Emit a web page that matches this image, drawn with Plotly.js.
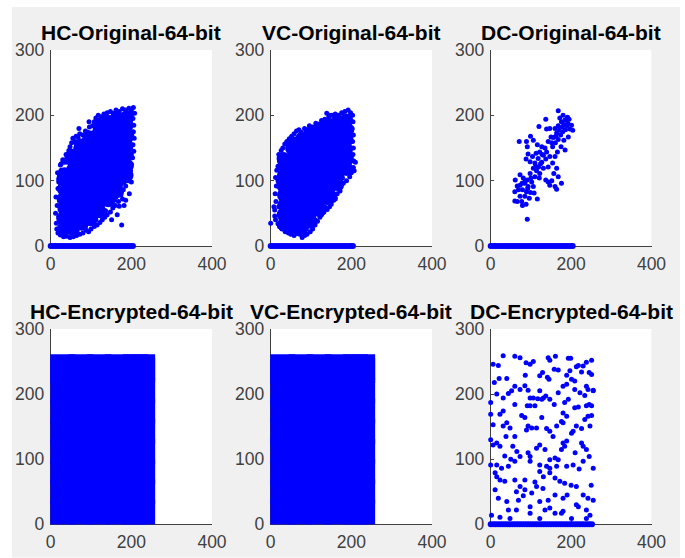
<!DOCTYPE html>
<html><head><meta charset="utf-8">
<script src="https://cdn.plot.ly/plotly-3.0.1.min.js"></script>
<style>html,body{margin:0;padding:0;background:#fff;}</style>
</head><body><div id="chart" style="width:685px;height:558px;"></div>
<script>
// ---------- data ----------
const panelTitles = ["HC-Original-64-bit","VC-Original-64-bit","DC-Original-64-bit",
                     "HC-Encrypted-64-bit","VC-Encrypted-64-bit","DC-Encrypted-64-bit"];
const xTickVals = [0,200,400];
const yTickVals = [0,100,200,300];

// dense core of the HC original cloud (representative points)
const hcOrigCore = [
[33,27],[31,42],[34,57],[32,72],[33,87],[31,102],[34,110],
[55,26],[56,42],[54,57],[55,72],[57,87],[54,102],[56,117],[55,132],[53,138],
[77,34],[78,49],[76,64],[77,79],[79,94],[76,109],[78,124],[77,139],[75,154],
[99,41],[100,56],[98,71],[101,86],[99,101],[97,116],[100,131],[99,146],[101,161],[98,166],
[121,53],[122,68],[120,83],[121,98],[123,113],[120,128],[122,143],[121,158],[119,173],[121,186],
[143,70],[144,85],[142,100],[143,115],[145,130],[142,145],[144,160],[143,175],[141,190],
[165,84],[166,99],[164,114],[165,129],[167,144],[164,159],[166,174],[165,189],[163,195],
[188,108],[189,123],[187,138],[188,153],[190,168],[187,183],[189,197]];
// sparse edge / outlier points of the HC original cloud
const hcOrigEdge = [
[14,35],[12,50],[16,62],[13,75],[18,88],[20,98],[22,108],[26,116],[24,124],[30,132],[35,128],[38,140],[45,146],[48,152],[52,158],[60,160],[63,168],[68,166],[72,172],[80,170],[86,176],[92,174],[96,182],[104,184],[108,190],[112,196],[118,200],[126,198],[132,202],[140,204],[148,206],[155,203],[162,208],[170,206],[178,210],[186,208],[194,211],[200,207],[205,212],[208,203],[204,195],
[206,185],[205,175],[207,165],[204,155],[206,145],[203,135],[200,125],[198,115],[196,108],[192,100],[186,92],[180,86],[174,78],[178,72],[168,68],[160,62],[154,58],[148,52],[140,48],[134,44],[128,40],[122,36],[115,32],[108,30],[100,26],[94,22],[88,24],[80,20],[72,18],[64,16],[56,14],[48,13],[40,15],[32,14],[24,17],[18,20],[15,26],
[151,40],[176,32],[170,61],[165,48],[182,62],[195,80],[186,70],[70,180],[55,165],[95,190],[200,98],[162,75],[40,135],[17,112],[26,126],
[20,45],[22,70],[24,92],[42,128],[62,150],[84,164],[110,182],[136,196],[172,200],[198,190],[200,140],[196,122],[182,98],[158,70],[136,54],[112,40],[86,30],[60,20],[38,20]];
const hcOrigZeroX = [0,6,12,18,24,30,36,42,48,54,60,66,72,78,84,90,96,102,108,114,120,126,132,138,144,150,156,162,168,174,180,186,192,198,204];

const vcOrigCore = [
[33,33],[32,48],[34,63],[33,78],[31,93],[33,108],[34,123],[32,133],
[55,30],[56,45],[54,60],[55,75],[57,90],[54,105],[56,120],[55,135],[53,150],[56,157],
[77,28],[78,43],[76,58],[77,73],[79,88],[76,103],[78,118],[77,133],[75,148],[77,163],
[99,37],[100,52],[98,67],[101,82],[99,97],[97,112],[100,127],[99,142],[101,157],[98,172],
[121,55],[122,70],[120,85],[121,100],[123,115],[120,130],[122,145],[121,160],[119,175],[121,180],
[143,73],[144,88],[142,103],[143,118],[145,133],[142,148],[144,163],[143,178],[141,186],
[165,95],[166,110],[164,125],[165,140],[167,155],[164,170],[166,185],[165,190],
[188,118],[189,133],[187,148],[188,163],[190,178],[187,192]];
const vcOrigEdge = [
[12,40],[10,55],[13,68],[11,80],[14,92],[12,105],[15,116],[18,122],[22,130],[20,140],[26,146],[30,150],[35,156],[40,160],[46,164],[52,168],[58,172],[64,176],[70,178],[76,174],[84,180],[90,178],[96,184],[104,182],[112,188],[118,186],[126,192],[134,194],[139,203],[144,198],[152,200],[160,202],[168,200],[176,204],[184,206],[192,208],[198,204],[203,200],
[204,190],[202,180],[205,170],[203,160],[205,150],[204,140],[206,130],[205,120],[200,112],[196,106],[188,100],[180,96],[174,90],[172,84],[165,80],[160,74],[156,70],[150,64],[146,60],[140,56],[132,52],[126,48],[122,44],[116,38],[110,32],[104,26],[98,22],[90,18],[84,16],[78,13],[72,18],[65,19],[58,16],[50,18],[44,20],[36,22],[28,26],[22,30],[18,34],
[0,35],[23,30],[150,78],[210,128],[207,115],[200,190],[146,200],[8,60],[10,46],[160,72],
[20,60],[18,100],[28,138],[48,158],[72,170],[100,178],[130,188],[160,196],[196,196],[200,160],[198,130],[178,104],[156,80],[134,60],[110,40],[88,26],[62,24],[34,30]];
const vcOrigZeroX = [0,6,12,18,24,30,36,42,48,54,60,66,72,78,84,90,96,102,108,114,120,126,132,138,144,150,156,162,168,174,180,186,192,198,204];

const dcOrigPts = [
[168,207],[191,197],[195,194],[185,193],[176,190],[182,186],[189,184],[204,177],[197,179],[168,184],[160,180],[170,177],[179,175],[164,173],[174,170],[156,166],[168,163],[182,162],[161,158],[150,167],[139,179],[137,194],[147,180],[175,152],[185,147],[166,144],[160,137],[154,152],[143,160],[201,185],[193,167],
[120,183],[99,168],[106,162],[116,155],[127,152],[135,150],[122,144],[131,139],[139,144],[113,142],[104,137],[118,134],[127,128],[137,133],[110,127],[119,121],[131,119],[114,115],[106,119],[98,111],[122,111],[143,121],[147,137],[91,152],[93,141],[88,133],[98,129],[110,106],[121,104],
[61,101],[73,109],[81,104],[91,101],[102,98],[85,96],[73,93],[93,91],[106,91],[79,86],[89,83],[99,82],[69,86],[60,83],[73,76],[85,76],[96,73],[77,68],[66,68],[60,69],[79,62],[88,64],[116,72],[108,81],[91,41],
[137,101],[143,98],[152,100],[147,93],[160,91],[164,87],[176,96],[168,106],[157,111],[164,119],[154,127],[71,160],[89,160],
[178,182],[186,178],[192,188],[172,196],[180,200],[162,168],[152,158],[128,140],[124,126],[112,122],[100,104],[86,100],[78,96],[92,88],[66,92]];
const dcOrigZeroX = [0,6,12,18,24,30,36,42,48,54,60,66,72,78,84,90,96,102,108,114,120,126,132,138,144,150,156,162,168,174,180,186,192,198,204];

// encrypted HC / VC: the pairs fill the whole 0..~258 square (representative points)
const hcEncPts = [
[30,19],[75,19],[118,19],[165,19],[208,19],[228,19],
[30,50],[72,52],[122,48],[163,51],[212,49],[228,50],
[30,81],[77,80],[119,83],[167,79],[209,82],[228,81],
[30,112],[74,113],[121,110],[162,114],[211,111],[228,112],
[30,143],[76,141],[118,144],[166,142],[207,145],[228,143],
[30,174],[73,176],[123,173],[164,175],[210,172],[228,174],
[30,205],[78,204],[120,207],[161,203],[212,206],[228,205],
[30,236],[74,234],[117,237],[167,235],[208,233],[228,236],
[30,242],[75,242],[120,242],[165,242],[210,242],[228,242]];
const vcEncPts = [
[30,19],[73,19],[121,19],[163,19],[210,19],[228,19],
[30,51],[76,49],[118,52],[166,48],[208,51],[228,50],
[30,80],[74,82],[122,79],[161,81],[213,80],[228,81],
[30,113],[78,111],[119,114],[165,110],[209,113],[228,112],
[30,142],[72,144],[121,141],[168,145],[206,142],[228,143],
[30,175],[77,173],[117,176],[163,172],[211,175],[228,174],
[30,204],[75,206],[123,203],[166,207],[208,204],[228,205],
[30,235],[73,237],[120,234],[162,236],[212,235],[228,236],
[30,242],[75,242],[120,242],[165,242],[210,242],[228,242]];

const dcEncPts = [
[6,246],[19,244],[31,259],[60,258],[73,256],[88,248],[98,246],[106,250],[143,256],[161,258],[193,255],[199,255],[218,244],[213,242],[238,249],[251,252],[147,252],
[9,218],[21,224],[40,224],[86,229],[122,228],[141,226],[145,223],[158,238],[168,237],[189,229],[197,236],[201,223],[209,220],[226,234],[230,243],[245,233],[251,230],[238,212],[255,205],[129,233],
[0,187],[0,169],[15,200],[31,194],[44,201],[52,205],[60,212],[73,207],[85,213],[93,206],[106,194],[117,193],[127,192],[131,194],[137,197],[147,192],[158,184],[168,202],[180,212],[189,215],[209,207],[222,202],[234,198],[242,207],[255,206],[31,174],[60,184],[91,182],[98,182],[110,182],[98,194],[122,205],[184,187],[193,192],[209,179],[218,180],[238,182],[251,182],[245,184],
[23,169],[31,151],[40,156],[48,148],[60,135],[77,167],[85,164],[93,151],[89,145],[102,148],[114,148],[127,164],[139,147],[147,143],[155,135],[164,151],[176,158],[180,171],[189,166],[201,140],[205,143],[213,151],[226,147],[234,161],[242,166],[251,167],[247,151],[180,156],[6,153],[38,135],
[0,130],[6,122],[15,125],[23,120],[93,110],[98,104],[114,117],[122,122],[135,115],[147,99],[160,102],[168,99],[176,115],[180,125],[184,120],[189,128],[226,125],[230,120],[238,115],[245,104],[230,97],[205,91],[189,89],[164,89],[147,86],[139,89],[122,91],[73,104],[60,97],[44,89],[15,91],[0,91],[27,86],[255,86],[98,97],
[11,79],[15,73],[23,68],[35,66],[60,68],[73,58],[85,53],[102,48],[114,58],[131,73],[147,79],[160,71],[172,66],[184,63],[213,58],[230,45],[242,40],[255,37],[11,53],[19,40],[40,35],[81,44],[69,37],[98,27],[122,35],[143,37],[147,25],[135,22],[176,17],[180,20],[213,30],[218,27],[238,22],[247,14],[98,17],[64,22],[44,22],[2,14],[23,11],[48,9],[122,9],[160,17],[201,9],[238,9],[64,50],[85,68],[122,81],
[50,100],[65,112],[35,105],[200,60],[190,45],[160,45],[110,65],[55,120],[210,110],[220,85],[250,60],[180,40],[130,55]];
const dcEncZeroX = [0,6,12,18,24,30,36,42,48,54,60,66,72,78,84,90,96,102,108,114,120,126,132,138,144,150,156,162,168,174,180,186,192,198,204,210,216,222,228,234,240,246,252];

// ---------- drawing ----------
const BLUE = '#0000ff';
function pts(list, ax, size, symbol) {
  return {
    type: 'scatter', mode: 'markers',
    x: list.map(p => p[0]), y: list.map(p => p[1]),
    xaxis: 'x' + (ax === 1 ? '' : ax), yaxis: 'y' + (ax === 1 ? '' : ax),
    marker: {color: BLUE, size: size, symbol: symbol || 'circle', line: {width: 0}},
    cliponaxis: false, hoverinfo: 'skip', showlegend: false
  };
}
function zeroRow(xs, ax) {
  return pts(xs.map(v => [v, 0]), ax, 6, 'circle');
}

const traces = [
  pts(hcOrigCore, 1, 14), pts(hcOrigEdge, 1, 5), zeroRow(hcOrigZeroX, 1),
  pts(vcOrigCore, 2, 14), pts(vcOrigEdge, 2, 5), zeroRow(vcOrigZeroX, 2),
  pts(dcOrigPts, 3, 5), zeroRow(dcOrigZeroX, 3),
  pts(hcEncPts, 4, 25, 'square'),
  pts(vcEncPts, 5, 25, 'square'),
  pts(dcEncPts, 6, 5), zeroRow(dcEncZeroX, 6)
];

const W = 685, H = 558;
const colPx = [[50.7, 212], [270.7, 432], [490.7, 651.5]];
const rowPx = [[50, 246], [329, 524.3]];
const layout = {
  width: W, height: H,
  margin: {l: 0, r: 0, t: 0, b: 0},
  paper_bgcolor: '#ffffff', plot_bgcolor: '#ffffff',
  showlegend: false,
  shapes: [{type: 'rect', xref: 'paper', yref: 'paper', x0: 12 / W, x1: 680 / W,
            y0: 0.5 / H, y1: (H - 7) / H, fillcolor: '#f0f0f0', line: {width: 0}, layer: 'below'}],
  annotations: []
};
const axFont = {family: 'Liberation Sans, Arial, sans-serif', size: 17.5, color: '#404040'};
for (let i = 0; i < 6; i++) {
  const r = Math.floor(i / 3), c = i % 3;
  const sfx = i === 0 ? '' : String(i + 1);
  const xd = [colPx[c][0] / W, colPx[c][1] / W];
  const yd = [(H - rowPx[r][1]) / H, (H - rowPx[r][0]) / H];
  layout['xaxis' + sfx] = {
    domain: xd, anchor: 'y' + sfx, range: [0, 400], tickvals: xTickVals,
    showgrid: false, zeroline: false, showline: true, linecolor: '#404040', linewidth: 1,
    ticks: 'inside', ticklen: 3, tickcolor: '#404040', tickfont: axFont, fixedrange: true,
    ticklabelstandoff: 2, layer: 'below traces'
  };
  layout['yaxis' + sfx] = {
    domain: yd, anchor: 'x' + sfx, range: [0, 300], tickvals: yTickVals,
    showgrid: false, zeroline: false, showline: true, linecolor: '#404040', linewidth: 1,
    ticks: 'inside', ticklen: 3, tickcolor: '#404040', tickfont: axFont, fixedrange: true,
    ticklabelstandoff: 2, layer: 'below traces'
  };
  layout.shapes.push({type: 'rect', xref: 'x' + sfx, yref: 'y' + sfx, x0: 0, x1: 400, y0: 0, y1: 300,
    fillcolor: '#ffffff', line: {width: 0}, layer: 'below'});
  layout.annotations.push({
    text: '<b>' + panelTitles[i] + '</b>', xref: 'paper', yref: 'paper',
    x: (colPx[c][0] + colPx[c][1]) / 2 / W, y: (H - (r === 0 ? 33 : 311)) / H,
    xanchor: 'center', yanchor: 'middle', showarrow: false,
    font: {family: 'Liberation Sans, Arial, sans-serif', size: 21, color: '#000000'}
  });
}
Plotly.newPlot('chart', traces, layout, {staticPlot: true, displayModeBar: false});
</script></body></html>
